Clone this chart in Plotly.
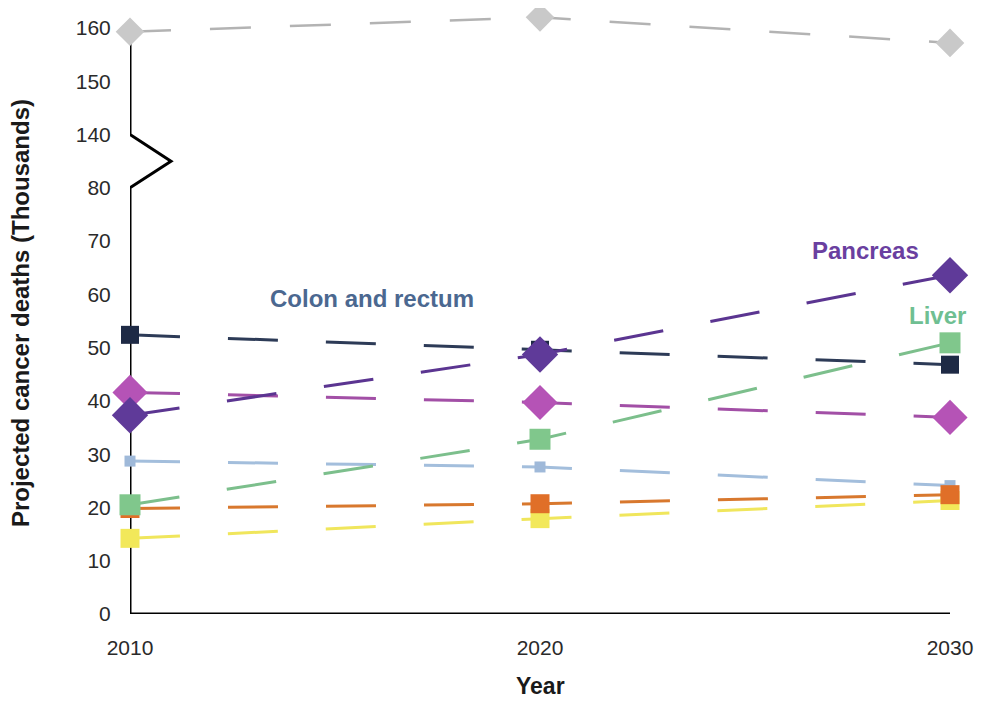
import plotly.graph_objects as go

years = [2010, 2020, 2030]

# Projected cancer deaths (thousands)
lung = [159.3, 162.0, 157.2]
colon_rectum = [52.4, 49.6, 46.8]
pancreas = [37.3, 48.7, 63.6]
breast = [41.6, 39.7, 36.9]
prostate = [28.7, 27.6, 24.1]
liver = [20.5, 32.8, 50.9]
orange_series = [19.8, 20.7, 22.4]
yellow_series = [14.2, 17.9, 21.3]

y_tick_values = [0, 10, 20, 30, 40, 50, 60, 70, 80, 140, 150, 160]
x_tick_values = [2010, 2020, 2030]

BREAK_LOW, BREAK_HIGH = 80, 140
BREAK_GAP = BREAK_HIGH - BREAK_LOW - 10  # 140 sits one step above 80


def ypos(v):
    return v - BREAK_GAP if v >= BREAK_HIGH else v


series = [
    # name, values, line colour, marker colour, symbol, size, dash, width
    ("Lung", lung, "#b3b3b3", "#c9c9c9", "diamond", 22, "41px,39px", 2.5),
    ("Prostate", prostate, "#a3bedc", "#9fb9d9", "square", 11, "50px,48px", 3),
    ("Yellow", yellow_series, "#f0e65c", "#f2e85a", "square", 19, "50px,48px", 3),
    ("Orange", orange_series, "#d8782e", "#e06f28", "square", 19, "50px,48px", 3),
    ("Liver", liver, "#7cbf8c", "#80c78c", "square", 21, "50px,48px", 3),
    ("Breast", breast, "#a24fa6", "#b553b6", "diamond", 27, "50px,48px", 3),
    ("Colon and rectum", colon_rectum, "#2d3b57", "#1e2a45", "square", 18, "50px,48px", 3),
    ("Pancreas", pancreas, "#5b3591", "#5f3a99", "diamond", 28, "50px,48px", 3),
]

fig = go.Figure()
for name, vals, lc, mc, sym, size, dash, w in series:
    fig.add_trace(go.Scatter(
        x=years, y=[ypos(v) for v in vals], name=name,
        mode="lines+markers",
        line=dict(color=lc, width=w, dash=dash),
        marker=dict(symbol=sym, size=size, color=mc,
                    line=dict(color=mc, width=0)),
        cliponaxis=False, showlegend=False,
    ))

# Axis line with a zig-zag break between 80 and 140
p80 = ypos(BREAK_LOW)
p140 = ypos(BREAK_HIGH)
pmid = (p80 + p140) / 2
ptop = ypos(157.5)
fig.add_shape(
    type="path", xref="x", yref="y", layer="below",
    path=(f"M 2010,{ptop} L 2010,{p140} L 2011,{pmid} L 2010,{p80} "
          f"L 2010,0 L 2030,0"),
    line=dict(color="black", width=3),
)

label_font = "Liberation Sans, Arial, sans-serif"
fig.add_annotation(x=2015.9, y=ypos(59.3), text="<b>Colon and rectum</b>",
                   showarrow=False, font=dict(size=24, color="#4b6890", family=label_font))
fig.add_annotation(x=2027.95, y=ypos(68.3), text="<b>Pancreas</b>",
                   showarrow=False, font=dict(size=24, color="#6a3fa0", family=label_font))
fig.add_annotation(x=2029.7, y=ypos(56.0), text="<b>Liver</b>",
                   showarrow=False, font=dict(size=24, color="#6fbf92", family=label_font))

# Axis titles
fig.add_annotation(xref="paper", yref="paper", x=-0.134, y=0.5, xanchor="center",
                   yanchor="middle",
                   text="<b>Projected cancer deaths (Thousands)</b>", textangle=-90,
                   showarrow=False, font=dict(size=24, color="#1a1a1a", family=label_font))
fig.add_annotation(xref="paper", yref="paper", x=0.5, y=-0.119, yanchor="middle",
                   text="<b>Year</b>", showarrow=False,
                   font=dict(size=23, color="#1a1a1a", family=label_font))

# y range extended a little above 160 so the top line is not clipped;
# margins keep 0 -> 110 on the same pixels
fig.update_layout(
    width=986, height=714,
    margin=dict(l=122, r=44, t=4, b=108),
    paper_bgcolor="white", plot_bgcolor="white",
    font=dict(family=label_font, size=21, color="#2a2a2a"),
)
fig.update_xaxes(
    range=[2010, 2030], tickvals=x_tick_values,
    ticktext=[str(v) for v in x_tick_values],
    showgrid=False, zeroline=False, showline=False,
    ticks="outside", ticklen=15, tickcolor="rgba(0,0,0,0)",
    tickfont=dict(size=21),
)
fig.update_yaxes(
    range=[0, 113], tickvals=[ypos(v) for v in y_tick_values],
    ticktext=[str(v) for v in y_tick_values],
    showgrid=False, zeroline=False, showline=False,
    ticks="outside", ticklen=14, tickcolor="rgba(0,0,0,0)",
    tickfont=dict(size=21),
)

fig.write_html("out.html")
